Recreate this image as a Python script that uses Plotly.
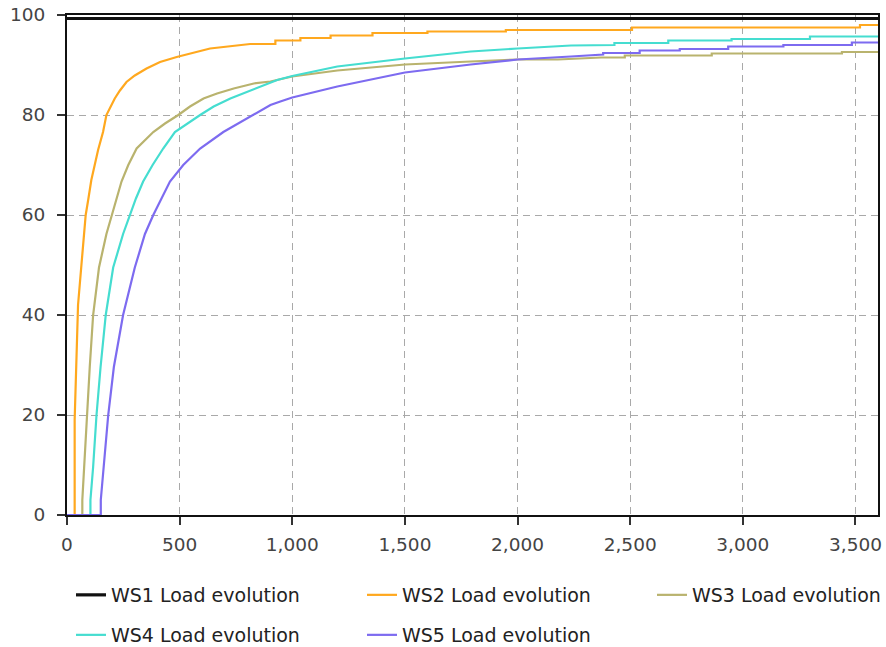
import plotly.graph_objects as go

# Elapsed time (x) and load level (%) for each workstation.
# Repeated x values mark the vertical risers of the step plateaus.
WS1_X = [0, 3600]
WS1_Y = [99.3, 99.3]

WS2_X = [0, 34, 34, 39, 45, 49, 64, 74, 83, 94, 108, 123, 138, 160, 175, 212, 235, 264, 301,
         353, 413, 487, 562, 635, 813, 925, 925, 1036, 1036, 1170, 1170, 1356, 1356, 1600,
         1600, 1948, 1948, 2508, 2508, 3520, 3520, 3600]
WS2_Y = [0, 0, 19, 26, 34, 42, 50, 56, 60, 63, 67, 70, 73, 76.6, 80, 83.3, 84.9, 86.6, 87.9,
         89.3, 90.6, 91.6, 92.5, 93.3, 94.2, 94.2, 94.9, 94.9, 95.4, 95.4, 95.9, 95.9, 96.4,
         96.4, 96.7, 96.7, 97.0, 97.0, 97.5, 97.5, 98.0, 98.0]

WS3_X = [0, 68, 68, 71, 83, 89, 101, 116, 142, 175, 198, 220, 242, 272, 309, 383, 435, 494,
         546, 606, 666, 740, 829, 903, 1000, 1200, 1500, 1792, 2000, 2179, 2371, 2476, 2476,
         2862, 2862, 3440, 3440, 3600]
WS3_Y = [0, 0, 3, 5.6, 16.3, 20, 29.6, 40, 49.5, 56.2, 60, 63.3, 66.7, 70, 73.3, 76.6, 78.3, 80,
         81.7, 83.3, 84.3, 85.3, 86.3, 86.7, 87.7, 88.9, 90.1, 90.7, 91.1, 91.1, 91.5, 91.5,
         91.9, 91.9, 92.3, 92.3, 92.6, 92.6]

WS4_X = [0, 104, 104, 116, 131, 149, 172, 205, 249, 279, 306, 338, 380, 427, 479, 591, 651,
         725, 821, 933, 1000, 1200, 1500, 1792, 2000, 2237, 2430, 2430, 2669, 2669, 2950, 2950,
         3298, 3298, 3600]
WS4_Y = [0, 0, 3, 9.6, 20, 29.6, 40, 49.5, 56.2, 60, 63.3, 66.7, 70, 73.3, 76.6, 80, 81.7,
         83.3, 85.0, 87.0, 87.8, 89.7, 91.3, 92.7, 93.3, 93.9, 94.0, 94.4, 94.4, 94.9, 94.9,
         95.2, 95.2, 95.7, 95.7]

WS5_X = [0, 150, 150, 157, 183, 208, 249, 301, 346, 383, 420, 457, 516, 591, 694, 829, 903,
         947, 1000, 1200, 1500, 1792, 2000, 2237, 2380, 2380, 2542, 2542, 2720, 2720, 2935,
         2935, 3180, 3180, 3484, 3484, 3600]
WS5_Y = [0, 0, 3, 6.3, 20, 29.6, 40, 49.5, 56.2, 60, 63.3, 66.7, 70, 73.3, 76.6, 80, 82.0,
         82.7, 83.5, 85.7, 88.5, 90.1, 91.1, 91.7, 92.1, 92.4, 92.4, 92.9, 92.9, 93.2, 93.2,
         93.7, 93.7, 94.0, 94.0, 94.5, 94.5]

NAMES = ["WS1 Load evolution", "WS2 Load evolution", "WS3 Load evolution",
         "WS4 Load evolution", "WS5 Load evolution"]
COLORS = ["#111111", "#FFA81E", "#B9B36E", "#45DDD0", "#7D6BF0"]

X_TICKS = [0, 500, 1000, 1500, 2000, 2500, 3000, 3500]
Y_TICKS = [0, 20, 40, 60, 80, 100]

series = [(WS1_X, WS1_Y), (WS2_X, WS2_Y), (WS3_X, WS3_Y), (WS4_X, WS4_Y), (WS5_X, WS5_Y)]

# Plot area in pixels
W, H = 886, 647
L, R, T, B = 67, 878, 15, 515
pw, ph = R - L, B - T

def px_x(px):
    return (px - L) / pw

def px_y(py):
    return (B - py) / ph

# legend slot for each series: (left px of legend box, row centre px)
slots = [(71, 595), (362, 595), (652, 595), (71, 635), (362, 635)]

fig = go.Figure()
legend_layouts = {}
for i, ((xs, ys), name, col) in enumerate(zip(series, NAMES, COLORS)):
    lg = "legend" if i == 0 else f"legend{i + 1}"
    fig.add_trace(go.Scatter(
        x=xs, y=ys, mode="lines", name=name,
        line=dict(color=col, width=2.2 if i else 3.2, shape="linear"),
        legend=lg, hoverinfo="skip", cliponaxis=False,
    ))
    lx, ly = slots[i]
    legend_layouts[lg] = dict(
        x=px_x(lx), y=px_y(ly), xanchor="left", yanchor="middle",
        xref="paper", yref="paper",
        bgcolor="rgba(0,0,0,0)", borderwidth=0,
        font=dict(family="DejaVu Sans", size=19, color="#222222"),
        itemclick=False, itemdoubleclick=False,
    )

axis_common = dict(
    showline=True, linecolor="#111111", linewidth=2, mirror=True,
    ticks="outside", ticklen=8, tickwidth=1.5, tickcolor="#333333",
    showgrid=True, gridcolor="#A9A9A9", gridwidth=1.3, griddash="7px,5px",
    zeroline=False, layer="below traces",
    tickfont=dict(family="DejaVu Sans", size=18.5, color="#444444"),
)

fig.update_layout(
    width=W, height=H,
    margin=dict(l=L, r=W - R, t=T, b=H - B, pad=0, autoexpand=False),
    paper_bgcolor="white", plot_bgcolor="white",
    showlegend=True,
    xaxis=dict(range=[0, 3600], tickvals=X_TICKS, tickformat=",d",
               ticklabelstandoff=4, **axis_common),
    yaxis=dict(range=[0, 100], tickvals=Y_TICKS,
               ticklabelstandoff=8, **axis_common),
    **legend_layouts,
)

fig.write_html("out.html")
